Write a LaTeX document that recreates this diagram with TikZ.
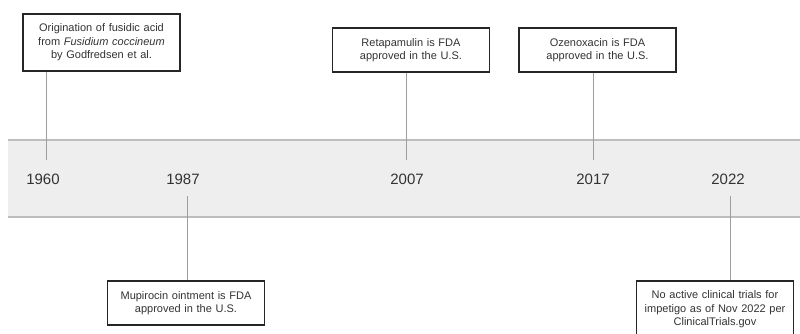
\documentclass[tikz,border=0pt]{standalone}
\usepackage{fontspec}
\setmainfont{Liberation Sans}
\usetikzlibrary{positioning}
\usetikzlibrary{calc}
\definecolor{bandgray}{HTML}{EEEEEE}
\definecolor{edgegray}{HTML}{BDBDBD}
\definecolor{stemgray}{HTML}{9E9E9E}
\definecolor{inkgray}{HTML}{333333}

\begin{document}
\begin{tikzpicture} [
    x=1pt, y=1pt,
    event/.style = { rectangle, draw=black!85, line width=1.4pt, fill=white,
                     minimum width=157pt, text width=147pt, align=center,
                     inner sep=4pt, text=inkgray,
                     font=\fontsize{11}{13.5}\selectfont },
    year/.style  = { font=\fontsize{15}{18}\selectfont, inner sep=0pt,
                     text=inkgray },
    line/.style  = { draw=stemgray, line width=0.8pt },
  ]
  \useasboundingbox (0,0) rectangle (800,333);
  \clip (0,0) rectangle (800,333);

  % band
  \fill[bandgray] (8,116) rectangle (800,193);
  \draw[edgegray, line width=1.5pt] (8,193) -- (800,193);
  \draw[edgegray, line width=1.5pt] (8,116) -- (800,116);

  % years
  \node (y1960) [year] at (43,154) {1960};
  \node (y1987) [year] at (183,154) {1987};
  \node (y2007) [year] at (407,154) {2007};
  \node (y2017) [year] at (593,154) {2017};
  \node (y2022) [year] at (728,154) {2022};

  % events
  \node (fusidic) [event, minimum height=57pt] at (101.5,290.5)
    {Origination of fusidic acid\\ from \textit{Fusidium coccineum}\\ by Godfredsen et al.};
  \node (retapa) [event, minimum height=44pt] at (411,283)
    {Retapamulin is FDA\\ approved in the U.S.};
  \node (ozeno) [event, minimum height=44pt] at (597.5,283)
    {Ozenoxacin is FDA\\ approved in the U.S.};
  \node (mupi) [event, minimum height=44pt] at (186,30)
    {Mupirocin ointment is FDA\\ approved in the U.S.};
  \node (trials) [event, minimum height=57pt] at (715,23.5)
    {No active clinical trials for\\ impetigo as of Nov 2022 per\\ ClinicalTrials.gov};

  \coordinate (t1960) at (46,173);
  \coordinate (t2007) at (406,173);
  \coordinate (t2017) at (593,173);
  \coordinate (t1987) at (187,137);
  \coordinate (t2022) at (730,137);

  % connect nodes
  \begin{scope}[every path/.style=line]
  \path (t1960 |- fusidic.south) -- (t1960);
  \path (t2007 |- retapa.south) -- (t2007);
  \path (t2017 |- ozeno.south) -- (t2017);
  \path (t1987) -- (t1987 |- mupi.north);
  \path (t2022) -- (t2022 |- trials.north);
  \end{scope}

\end{tikzpicture}
\end{document}
